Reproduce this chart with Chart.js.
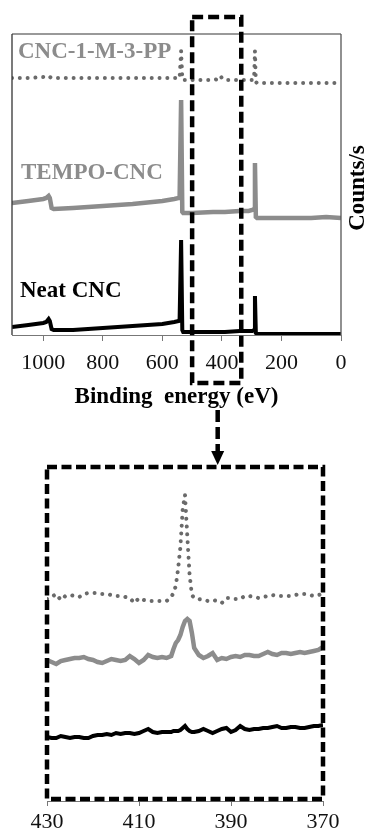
<!DOCTYPE html>
<html>
<head>
<meta charset="utf-8">
<script src="https://cdn.jsdelivr.net/npm/chart.js@4.4.1/dist/chart.umd.min.js"></script>
<style>
  html, body { margin: 0; padding: 0; background: #fff; }
  #wrap { position: relative; width: 369px; height: 836px; overflow: hidden; }
  canvas { position: absolute; left: 0; }
  #survey { top: 0; }
  #zoom { top: 440px; }
</style>
</head>
<body>
<div id="wrap">
  <canvas id="survey" width="369" height="480"></canvas>
  <canvas id="zoom" width="369" height="396"></canvas>
</div>
<script>
// survey spectrum (binding energy in eV, counts in arbitrary units)
const surveyEnergy = [1105, 1050, 1000, 990, 982, 978, 972, 965, 900, 800, 700, 600, 560, 545, 542, 537, 533, 530, 520, 500,
  430, 412, 405, 398, 390, 340, 310, 298, 292, 289, 286, 282, 250, 200, 150, 100, 50, 0];
const surveyNeat = [8, 10, 12, 13, 16, 14, 6, 5, 5, 7, 9, 11, 13, 14, 16, 95, 5, 3, 3, 3,
  3, 3, 3, 3, 3, 4, 4, 4, 5, 39, 2, 1, 1, 1, 1, 1, 1, 1];
const surveyTempo = [132, 134, 136, 137, 139, 137, 127, 126, 127, 129, 131, 134, 136, 137, 138, 235, 123, 122, 122, 122,
  123, 123, 123, 123, 123, 124, 124, 125, 126, 172, 118, 117, 117, 117, 117, 117, 118, 117];
const surveyPP = [257, 257, 258, 258, 259, 258, 257, 257, 257, 257, 257, 257, 257, 257, 257, 284, 256, 255, 255, 255,
  255, 256, 259, 256, 255, 255, 255, 255, 256, 284, 253, 252, 252, 252, 252, 252, 252, 252];
const surveyTicks = [0, 200, 400, 600, 800, 1000];

// N1s region
const zoomEnergy = [430, 429, 428, 427, 426, 425, 424, 423, 422, 421, 420, 419, 418, 417, 416, 415, 414, 413, 412, 411, 410, 409, 408, 407, 406, 405, 404,
  403, 402.5, 402, 401.5, 401, 400.5, 400, 399.5, 399, 398.5, 398,
  397, 396, 395, 394, 393, 392, 391, 390, 389, 388, 387, 386, 385, 384, 383, 382, 381, 380, 379, 378, 377, 376, 375, 374, 373, 372, 371, 370];
const zoomNeat = [64, 63, 63, 65, 64, 63, 64, 64, 63, 63, 65, 66, 66, 67, 66, 68, 67, 68, 68, 67, 68, 70, 72, 69, 68, 69, 69,
  69, 70, 70, 70, 71, 73, 75, 72, 70, 69, 69,
  70, 72, 70, 68, 70, 72, 73, 69, 71, 75, 72, 71, 72, 72, 73, 73, 74, 75, 73, 73, 74, 74, 73, 73, 74, 75, 75, 76];
const zoomTempo = [141, 139, 137, 140, 141, 142, 143, 143, 144, 142, 141, 139, 138, 140, 142, 141, 140, 141, 145, 142, 138, 141, 146, 144, 143, 144, 143,
  145, 152, 158, 161, 166, 174, 180, 182, 180, 168, 153,
  146, 143, 145, 148, 141, 143, 142, 144, 145, 144, 146, 146, 145, 145, 147, 149, 147, 146, 148, 148, 147, 148, 149, 148, 149, 150, 151, 154];
const zoomPP = [202, 204, 207, 201, 205, 206, 205, 204, 207, 208, 208, 208, 207, 207, 206, 205, 205, 204, 203, 198, 203, 201, 200, 200, 200, 200, 200,
  204, 208, 215, 232, 254, 292, 306, 265, 226, 206, 203,
  202, 201, 200, 201, 200, 198, 203, 203, 202, 202, 205, 205, 204, 203, 204, 205, 206, 205, 205, 205, 205, 206, 207, 207, 206, 205, 206, 207];
const zoomTicks = [370, 390, 410, 430];

const seriesNames = ['Neat CNC', 'TEMPO-CNC', 'CNC-1-M-3-PP'];
const zoomWindow = [500, 335];

Chart.defaults.font.family = "'Liberation Serif', 'Times New Roman', serif";
Chart.defaults.color = '#111';

function points(energy, counts) {
  return energy.map((e, i) => ({ x: e, y: counts[i] }));
}

function datasets(energy, neat, tempo, pp) {
  return [
    { label: seriesNames[0], data: points(energy, neat), borderColor: '#000', borderWidth: 4 },
    { label: seriesNames[1], data: points(energy, tempo), borderColor: '#8c8c8c', borderWidth: 4.5 },
    { label: seriesNames[2], data: points(energy, pp), borderColor: '#6a6a6a', borderWidth: 4,
      borderDash: [0.01, 7.8], borderCapStyle: 'round' }
  ];
}

function xAxis(min, max, ticks, height, tickLen, pad, title) {
  return {
    type: 'linear', reverse: true, min: min, max: max,
    afterBuildTicks: s => { s.ticks = ticks.map(v => ({ value: v })); },
    afterFit: s => { s.height = height; },
    grid: { drawOnChartArea: false, drawTicks: true, tickLength: tickLen, color: '#777' },
    border: { display: true, color: '#777', width: 1 },
    ticks: { font: { size: 22 }, color: '#111', padding: pad, maxRotation: 0, autoSkip: false, callback: v => String(v) },
    title: title
  };
}

const surveyDecor = {
  id: 'surveyDecor',
  afterDraw(chart) {
    const { ctx, chartArea: a, scales } = chart;
    ctx.save();
    // frame
    ctx.lineWidth = 1.3;
    ctx.strokeStyle = '#777';
    ctx.beginPath(); ctx.moveTo(a.left, a.top); ctx.lineTo(a.right, a.top); ctx.stroke();
    ctx.strokeStyle = '#333';
    ctx.beginPath(); ctx.moveTo(a.left, a.top); ctx.lineTo(a.left, a.bottom); ctx.stroke();
    ctx.strokeStyle = '#555';
    ctx.beginPath(); ctx.moveTo(a.right, a.top); ctx.lineTo(a.right, a.bottom); ctx.stroke();

    // series labels
    const ds = chart.data.datasets;
    ctx.font = "bold 23px 'Liberation Serif'";
    ctx.textBaseline = 'middle';
    ctx.fillStyle = '#8c8c8c';
    ctx.fillText(ds[2].label, 18, 52);
    ctx.fillText(ds[1].label, 21, 173);
    ctx.fillStyle = '#000';
    ctx.fillText(ds[0].label, 20, 291);

    // y title
    ctx.save();
    ctx.translate(358, 188);
    ctx.rotate(-Math.PI / 2);
    ctx.textAlign = 'center';
    ctx.fillText('Counts/s', 0, 0);
    ctx.restore();

    // zoom window
    const x1 = scales.x.getPixelForValue(zoomWindow[0]);
    const x2 = scales.x.getPixelForValue(zoomWindow[1]);
    ctx.strokeStyle = '#000';
    ctx.lineWidth = 4.5;
    ctx.setLineDash([11, 5]);
    ctx.strokeRect(x1, 17, x2 - x1, 366);

    // arrow to the detail plot
    const xm = (x1 + x2) / 2 + 1;
    ctx.setLineDash([12, 5]);
    ctx.beginPath(); ctx.moveTo(xm, 410); ctx.lineTo(xm, 452); ctx.stroke();
    ctx.setLineDash([]);
    ctx.fillStyle = '#000';
    ctx.beginPath();
    ctx.moveTo(xm - 6.5, 451); ctx.lineTo(xm + 6.5, 451); ctx.lineTo(xm, 465);
    ctx.closePath(); ctx.fill();
    ctx.restore();
  }
};

const zoomDecor = {
  id: 'zoomDecor',
  afterDraw(chart) {
    const { ctx, chartArea: a } = chart;
    ctx.save();
    ctx.strokeStyle = '#000';
    ctx.lineWidth = 4.5;
    ctx.setLineDash([10, 4.5]);
    ctx.strokeRect(a.left, a.top, a.right - a.left, a.bottom - a.top - 2);
    ctx.restore();
  }
};

new Chart(document.getElementById('survey'), {
  type: 'line',
  data: { datasets: datasets(surveyEnergy, surveyNeat, surveyTempo, surveyPP) },
  options: {
    responsive: false, animation: false,
    layout: { padding: { left: 12, right: 28, top: 34, bottom: 69 } },
    elements: { point: { radius: 0 }, line: { tension: 0 } },
    plugins: { legend: { display: false }, tooltip: { enabled: false } },
    scales: {
      x: xAxis(0, 1105, surveyTicks, 76, 6, 9, {
        display: true, text: 'Binding  energy (eV)', color: '#000',
        font: { size: 23, weight: 'bold' }, padding: 0
      }),
      y: { display: false, min: 0, max: 301 }
    }
  },
  plugins: [surveyDecor]
});

new Chart(document.getElementById('zoom'), {
  type: 'line',
  data: { datasets: datasets(zoomEnergy, zoomNeat, zoomTempo, zoomPP) },
  options: {
    responsive: false, animation: false,
    layout: { padding: { left: 47, right: 46, top: 27, bottom: 0 } },
    elements: { point: { radius: 0 }, line: { tension: 0 } },
    plugins: { legend: { display: false }, tooltip: { enabled: false } },
    scales: {
      x: xAxis(370, 430, zoomTicks, 35, 5, 3, { display: false }),
      y: { display: false, min: 0, max: 334 }
    }
  },
  plugins: [zoomDecor]
});
</script>
</body>
</html>
